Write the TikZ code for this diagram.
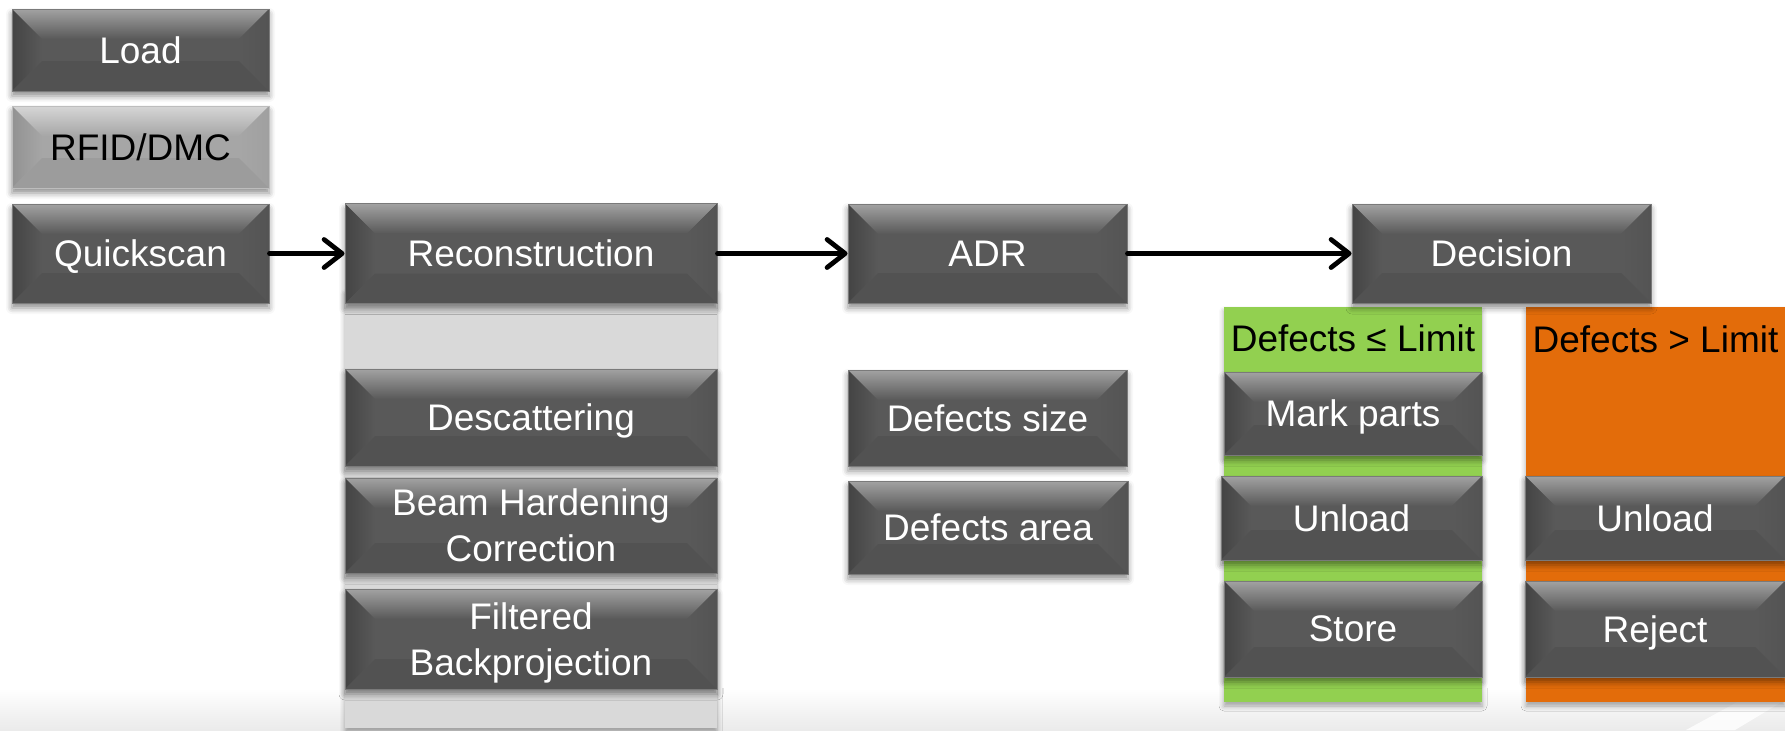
\documentclass[tikz,border=0pt]{standalone}
\usepackage{fontspec}
\setmainfont{Liberation Sans}
\usetikzlibrary{arrows.meta,shadows.blur}
\definecolor{boxbase}{HTML}{595959}
\definecolor{boxtop}{HTML}{A2A2A2}
\definecolor{boxleft}{HTML}{444444}
\definecolor{boxright}{HTML}{545454}
\definecolor{boxbot}{HTML}{525252}
\definecolor{boxline}{HTML}{7A7A7A}
\definecolor{ltbase}{HTML}{A6A6A6}
\definecolor{lttop}{HTML}{D6D6D6}
\definecolor{ltleft}{HTML}{929292}
\definecolor{ltright}{HTML}{A0A0A0}
\definecolor{ltbot}{HTML}{9C9C9C}
\definecolor{ltline}{HTML}{BDBDBD}
\definecolor{panelgray}{HTML}{D9D9D9}
\definecolor{panelgreen}{HTML}{92D050}
\definecolor{panelorange}{HTML}{E36C0A}
\newcommand\bevfacets[5]{%
  \path (path picture bounding box.north west) coordinate (pNW)
        (path picture bounding box.north east) coordinate (pNE)
        (path picture bounding box.south west) coordinate (pSW)
        (path picture bounding box.south east) coordinate (pSE);
  \shade[top color=#1, bottom color=#5] (pNW) -- (pNE) -- ([shift={(-15pt,-15pt)}]pNE) -- ([shift={(15pt,-15pt)}]pNW) -- cycle;
  \shade[left color=#2, right color=#5] (pNW) -- ([shift={(15pt,-15pt)}]pNW) -- ([shift={(15pt,15pt)}]pSW) -- (pSW) -- cycle;
  \shade[left color=#5, right color=#3] (pNE) -- ([shift={(-15pt,-15pt)}]pNE) -- ([shift={(-15pt,15pt)}]pSE) -- (pSE) -- cycle;
  \fill[#4] (pSW) -- (pSE) -- ([shift={(-15pt,15pt)}]pSE) -- ([shift={(15pt,15pt)}]pSW) -- cycle;
}
\tikzset{
  boxbase/.style={rectangle, inner sep=0pt, align=center, text depth=0pt,
    font=\fontsize{18.5}{23}\selectfont,
    blur shadow={shadow xshift=0pt, shadow yshift=-2.5pt, shadow blur radius=3pt, shadow opacity=45}},
  bev/.style={boxbase, fill=boxbase, draw=boxline, line width=0.5pt, text=white,
    path picture={\bevfacets{boxtop}{boxleft}{boxright}{boxbot}{boxbase}}},
  bevlt/.style={boxbase, fill=ltbase, draw=ltline, line width=0.5pt, text=black,
    path picture={\bevfacets{lttop}{ltleft}{ltright}{ltbot}{ltbase}}},
  panel/.style={rectangle, inner sep=0pt, draw=none,
    blur shadow={shadow xshift=0pt, shadow yshift=-2pt, shadow blur radius=2.5pt, shadow opacity=35}},
  lbl/.style={inner sep=0pt, text=black, font=\fontsize{18.5}{23}\selectfont},
  arr/.style={line width=2.4pt, line cap=round, -{Straight Barb[length=9pt,width=14pt,round]}},
}
\begin{document}
\begin{tikzpicture}[x=0.5pt,y=-0.5pt]
\useasboundingbox (0,0) rectangle (1785,730);
% background band
\shade[top color=white, bottom color=black!8, draw=none] (0,688) rectangle (1785,730);
\fill[white, opacity=0.8] (1686,730) -- (1785,676) -- (1785,700) -- (1735,730) -- cycle;
% panels
\node[panel, fill=panelgray, minimum width=186pt, minimum height=219pt] (gpan) at (531,509) {};
\node[panel, fill=panelgreen, minimum width=129pt, minimum height=197.5pt] (grpan) at (1353,504.5) {};
\node[panel, fill=panelorange, minimum width=129.5pt, minimum height=197.5pt] (orpan) at (1655.5,504.5) {};
% labels
\node[lbl] (glbl) at (1353,338) {Defects ≤ Limit};
\node[lbl] (olbl) at (1655.5,339) {Defects > Limit};
% left column
\node[bev, minimum width=128.5pt, minimum height=41pt] (load) at (140.5,50) {Load};
\node[bevlt, minimum width=128.5pt, minimum height=41pt] (rfid) at (140.5,147) {RFID/DMC};
\node[bev, minimum width=128.5pt, minimum height=49.5pt] (quick) at (140.5,253.5) {Quickscan};
% reconstruction column
\node[bev, minimum width=186pt, minimum height=50pt] (recon) at (531,253.5) {Reconstruction};
\node[bev, minimum width=186pt, minimum height=48.5pt] (desc) at (531,417.5) {Descattering};
\node[bev, minimum width=186pt, minimum height=47.5pt] (beam) at (531,525.5) {Beam Hardening\\Correction};
\node[bev, minimum width=186pt, minimum height=50pt] (filt) at (531,639) {Filtered\\Backprojection};
% ADR column
\node[bev, minimum width=139.5pt, minimum height=49.5pt] (adr) at (987.5,253.5) {ADR};
\node[bev, minimum width=139.5pt, minimum height=48pt] (dsize) at (987.5,418) {Defects size};
\node[bev, minimum width=140pt, minimum height=46.5pt] (darea) at (988,527.5) {Defects area};
% decision column
\node[bev, minimum width=149.5pt, minimum height=49.5pt] (dec) at (1501.5,253.5) {Decision};
\node[bev, minimum width=129pt, minimum height=41.5pt] (mark) at (1353,413.5) {Mark parts};
\node[bev, minimum width=130.5pt, minimum height=42pt] (unl1) at (1351.5,518) {Unload};
\node[bev, minimum width=129pt, minimum height=48pt] (store) at (1353,629) {Store};
\node[bev, minimum width=130pt, minimum height=42pt] (unl2) at (1655,518) {Unload};
\node[bev, minimum width=130pt, minimum height=48pt] (rej) at (1655,629) {Reject};
% arrows
\draw[arr] (quick.east) -- (quick.east -| recon.west);
\draw[arr] (recon.east) -- (recon.east -| adr.west);
\draw[arr] (adr.east) -- (adr.east -| dec.west);
\end{tikzpicture}
\end{document}
